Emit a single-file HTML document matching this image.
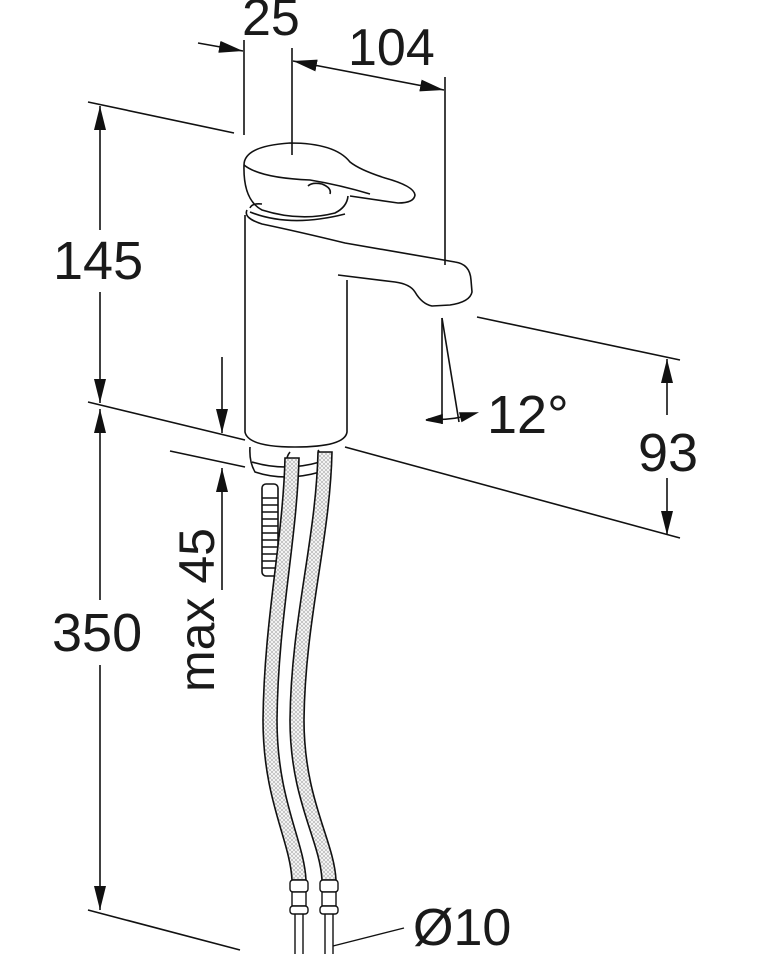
<!DOCTYPE html>
<html><head><meta charset="utf-8"><style>
html,body{margin:0;padding:0;background:#fff;}
svg{display:block;}
text{font-family:"Liberation Sans",sans-serif;fill:#1a1a1a;}
</style></head><body>
<svg width="770" height="954" viewBox="0 0 770 954" xmlns="http://www.w3.org/2000/svg">
<defs>
<marker id="a" viewBox="0 0 24 12" refX="24" refY="6" markerWidth="24" markerHeight="12" markerUnits="userSpaceOnUse" orient="auto-start-reverse"><path d="M0,0 L24,6 L0,12 z" fill="#111"/></marker>
<pattern id="h" width="4" height="4" patternUnits="userSpaceOnUse"><rect width="4" height="4" fill="#fff"/><path d="M0,0L4,4M4,0L0,4" stroke="#bbb" stroke-width="0.8"/></pattern>
</defs>
<g stroke="#111" stroke-width="1.6" fill="none">
<!-- top dims -->
<line x1="244" y1="40" x2="244" y2="135"/>
<line x1="292" y1="48" x2="292" y2="155"/>
<line x1="445" y1="77" x2="445" y2="265"/>
<line x1="198" y1="43" x2="243" y2="51" marker-end="url(#a)"/>
<line x1="293" y1="61" x2="444" y2="90" marker-start="url(#a)" marker-end="url(#a)"/>
<!-- 145 / 350 -->
<line x1="88" y1="102" x2="234" y2="133"/>
<line x1="88" y1="402" x2="245" y2="440"/>
<line x1="88" y1="910" x2="240" y2="950"/>
<line x1="100" y1="106" x2="100" y2="230" marker-start="url(#a)"/>
<line x1="100" y1="292" x2="100" y2="403" marker-end="url(#a)"/>
<line x1="100" y1="409" x2="100" y2="600" marker-start="url(#a)"/>
<line x1="100" y1="665" x2="100" y2="910" marker-end="url(#a)"/>
<!-- max 45 -->
<line x1="222" y1="357" x2="222" y2="433" marker-end="url(#a)"/>
<line x1="222" y1="468" x2="222" y2="590" marker-start="url(#a)"/>
<line x1="170" y1="451" x2="245" y2="467"/>
<!-- 93 -->
<line x1="477" y1="317" x2="680" y2="360"/>
<line x1="345" y1="447" x2="680" y2="538"/>
<line x1="667" y1="359" x2="667" y2="415" marker-start="url(#a)"/>
<line x1="667" y1="478" x2="667" y2="535" marker-end="url(#a)"/>
<!-- 12 deg -->
<line x1="442" y1="318" x2="442" y2="424"/>
<line x1="442" y1="318" x2="459" y2="422"/>
<path d="M428,419 Q450,421 474,414"/>
<path d="M426,420 L442,415 L442,423 z M476,413 L460,413 L462,421 z" fill="#111"/>
<!-- faucet body -->
<path d="M245,215 L245,432 Q248,447 295,447 Q345,447 347,432 L347,280"/>
<path d="M247,210 Q243,218 262,224 Q300,232 345,243 L455,262 Q470,264 471,280 L472,292 Q470,302 450,305 L432,306 Q422,304 415,292 Q410,284 395,282 L338,275"/>
<path d="M250,208 Q252,203 262,204"/>
<!-- handle -->
<path d="M244,165 Q244,146 290,143 Q335,143 350,162 Q360,170 385,178 Q414,186 415,195 Q414,203 398,203 L350,196"/>
<path d="M244,165 Q260,178 310,180 Q340,185 370,194"/>
<path d="M308,186 Q312,182 322,184 Q332,188 330,194"/>
<path d="M244,165 Q243,200 262,210 Q300,222 335,213 Q347,207 348,196"/>
<path d="M250,212 Q290,228 345,214"/>
<!-- base fittings -->
<path d="M250,447 Q249,462 255,472 Q285,482 320,472 Q325,460 318,450"/>
<path d="M252,462 Q285,472 320,462"/>
<path d="M290,452 Q282,462 296,466"/>
<!-- threaded stud -->
<rect x="262" y="484" width="16" height="92" rx="4" fill="#fff"/>
<path d="M262,498h16M262,505h16M262,512h16M262,519h16M262,526h16M262,533h16M262,540h16M262,547h16M262,554h16M262,561h16M262,568h16"/>
</g>
<!-- hoses -->
<g stroke="#111" stroke-width="1.6" fill="url(#h)">
<path d="M285,458 C283,540 264,620 263,720 C263,800 290,840 292,880 L306,880 C304,840 277,800 277,720 C278,620 297,540 299,458 z"/>
<path d="M318,452 C316,540 291,620 290,720 C290,800 320,840 322,880 L336,880 C334,840 304,800 304,720 C305,620 330,540 332,452 z"/>
</g>
<g stroke="#111" stroke-width="1.4" fill="#fff">
<rect x="290" y="880" width="18" height="12" rx="3"/>
<rect x="292" y="892" width="14" height="14"/>
<rect x="290" y="906" width="18" height="8" rx="3"/>
<rect x="320" y="880" width="18" height="12" rx="3"/>
<rect x="322" y="892" width="14" height="14"/>
<rect x="320" y="906" width="18" height="8" rx="3"/>
<path d="M295,914V954M303,914V954M325,914V954M333,914V954" fill="none"/>
<line x1="333" y1="946" x2="404" y2="928"/>
</g>
<text x="242" y="35" font-size="52">25</text>
<text x="348" y="65" font-size="52">104</text>
<text x="53" y="279" font-size="54">145</text>
<text x="52" y="651" font-size="54">350</text>
<text x="638" y="471" font-size="54">93</text>
<text x="487" y="433" font-size="54">12°</text>
<text x="413" y="945" font-size="52">Ø10</text>
<text transform="translate(214,692) rotate(-90)" font-size="50">max 45</text>
</svg>
</body></html>
